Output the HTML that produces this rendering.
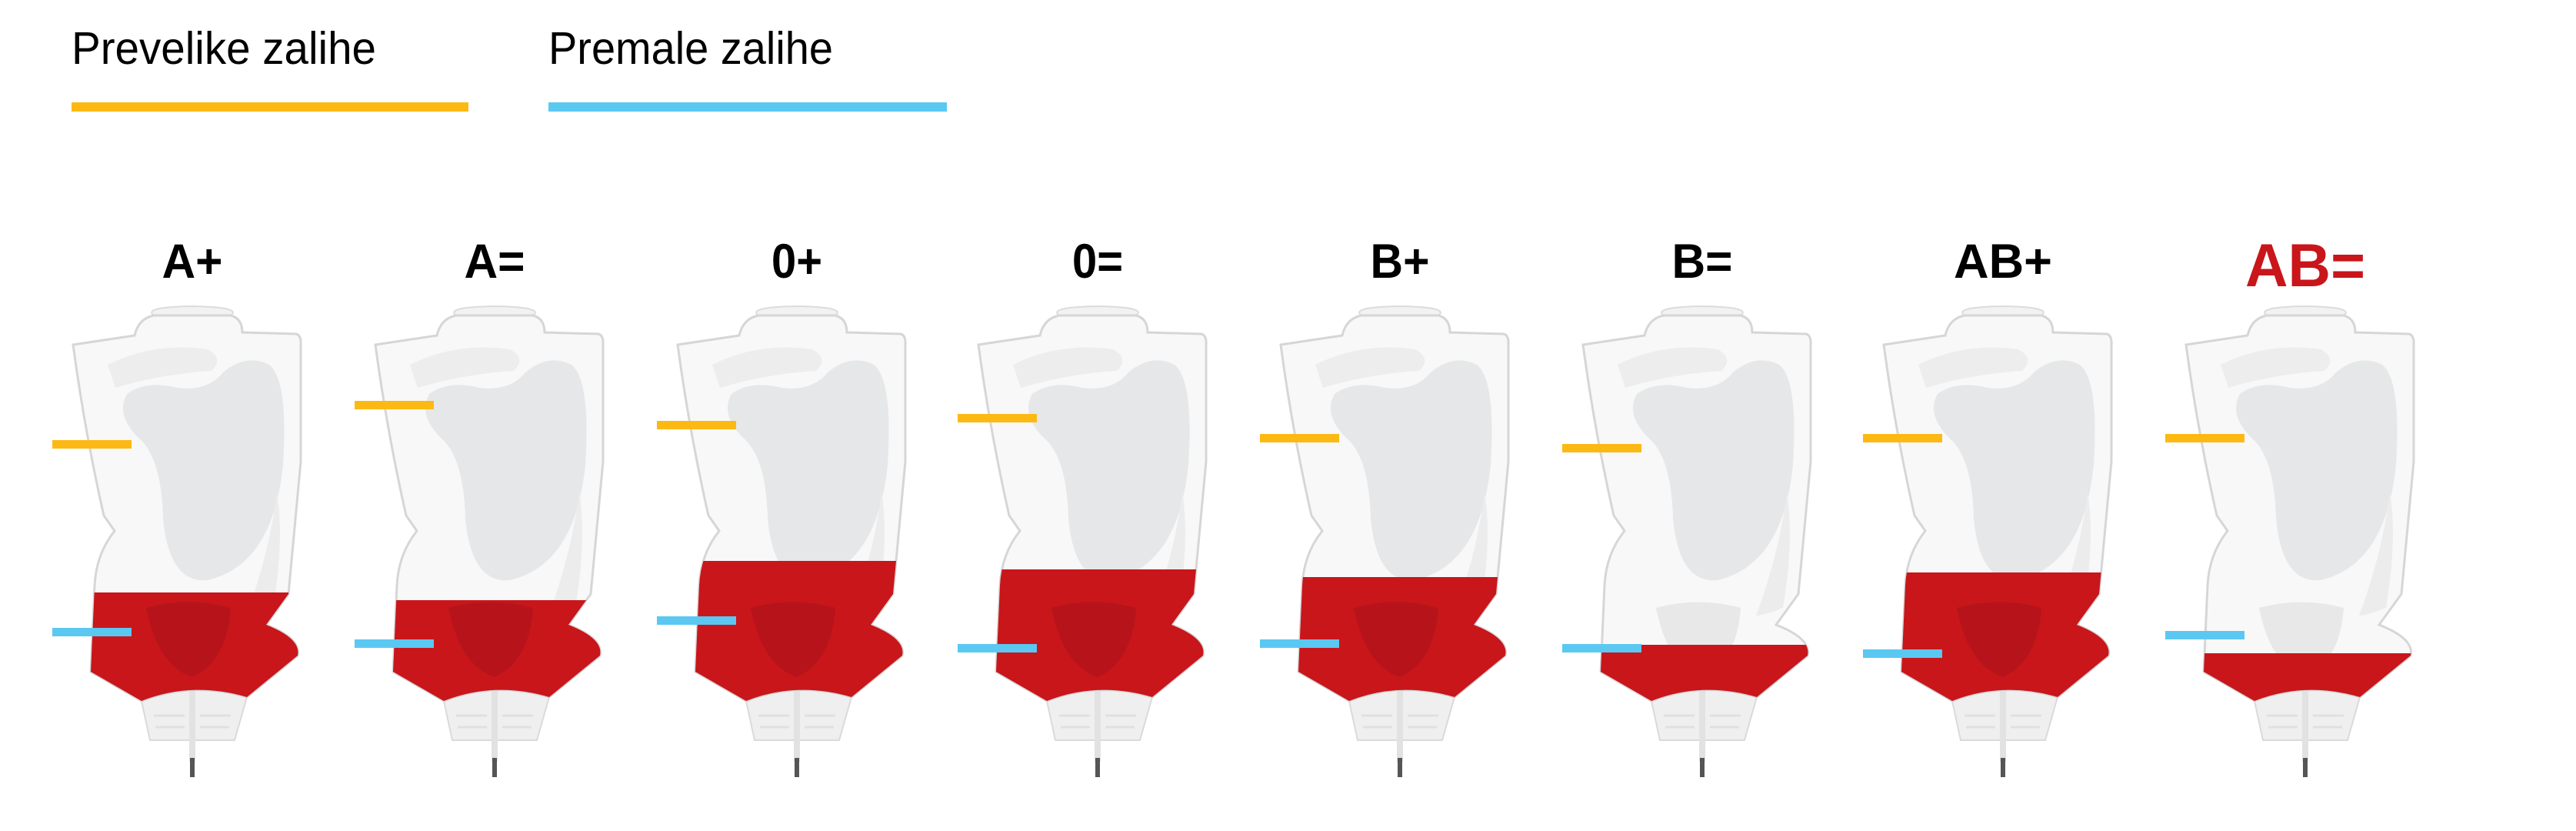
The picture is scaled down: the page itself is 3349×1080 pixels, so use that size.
<!DOCTYPE html>
<html><head><meta charset="utf-8"><style>
html,body{margin:0;padding:0;background:#fff;width:3349px;height:1080px;overflow:hidden}
svg{display:block}
text{font-family:"Liberation Sans",sans-serif}
</style></head><body>
<svg width="3349" height="1080" viewBox="0 0 3349 1080" xmlns="http://www.w3.org/2000/svg">
<defs>
<path id="body" d="M -155 448 L -75 436 Q -70 414 -50 410 L 50 410 Q 65 414 65 432 L 135 434 Q 142 436 141 449 L 141 600 L 125 772 L 96 812 Q 142 830 137 852 L 71 906 Q 0 885 -66 911 L -132 873 L -127 761 Q -125 720 -101 690 L -115 670 Q -140 560 -155 448 Z"/>
<clipPath id="cp"><use href="#body"/></clipPath>
<g id="bagbase">
  <path d="M -66 911 L -55 962 L 55 962 L 71 906 Q 0 885 -66 911 Z" fill="#efefef" stroke="#dadada" stroke-width="2"/>
  <line x1="-50" y1="930" x2="-10" y2="930" stroke="#e0e0e0" stroke-width="3"/>
  <line x1="10" y1="930" x2="50" y2="930" stroke="#e0e0e0" stroke-width="3"/>
  <line x1="-48" y1="945" x2="-10" y2="945" stroke="#e0e0e0" stroke-width="3"/>
  <line x1="10" y1="945" x2="48" y2="945" stroke="#e0e0e0" stroke-width="3"/>
  <rect x="-4" y="895" width="8" height="95" fill="#e2e2e2"/>
  <rect x="-3" y="985" width="6" height="25" fill="#555"/>
  <path d="M -50 410 Q -65 399 0 398 Q 65 399 50 410 Z" fill="#f2f2f2" stroke="#dcdcdc" stroke-width="2"/>
  <use href="#body" fill="#f8f8f8" stroke="#d6d6d6" stroke-width="3"/>
  <path d="M -110 474 Q -50 444 20 454 Q 42 466 25 482 Q -40 486 -100 504 Z" fill="#ededed"/>
  <path d="M -85 512 Q -60 494 -20 504 Q 20 509 40 484 Q 70 459 100 474 Q 125 494 118 604 Q 105 734 20 754 Q -30 759 -38 674 Q -40 594 -70 569 Q -100 539 -85 512 Z" fill="#e6e7e8"/>
  <path d="M -60 790 Q -5 775 50 790 Q 45 860 0 880 Q -45 865 -60 790 Z" fill="#e8e8e8"/>
  <path d="M 110 640 Q 120 700 105 790 Q 80 800 70 800 Q 100 720 110 640 Z" fill="#ececec"/>
</g>
<path id="dk" d="M -60 790 Q -5 775 50 790 Q 45 860 0 880 Q -45 865 -60 790 Z" fill="#a8141a" opacity=".55"/>
</defs>

<text x="93" y="83" font-size="59" textLength="396" lengthAdjust="spacingAndGlyphs" fill="#000">Prevelike zalihe</text>
<rect x="93" y="133" width="516" height="12" fill="#fdb913"/>
<text x="713" y="83" font-size="59" textLength="370" lengthAdjust="spacingAndGlyphs" fill="#000">Premale zalihe</text>
<rect x="713" y="133" width="518" height="12" fill="#5bc8f2"/>

<g font-weight="bold" font-size="63" text-anchor="middle" fill="#000">
<text x="250" y="361" textLength="79" lengthAdjust="spacingAndGlyphs">A+</text>
<text x="643" y="361" textLength="79" lengthAdjust="spacingAndGlyphs">A=</text>
<text x="1036" y="361" textLength="66" lengthAdjust="spacingAndGlyphs">0+</text>
<text x="1427" y="361" textLength="66" lengthAdjust="spacingAndGlyphs">0=</text>
<text x="1820" y="361" textLength="77" lengthAdjust="spacingAndGlyphs">B+</text>
<text x="2213" y="361" textLength="79" lengthAdjust="spacingAndGlyphs">B=</text>
<text x="2604" y="361" textLength="128" lengthAdjust="spacingAndGlyphs">AB+</text>
<text x="2997" y="372" font-size="79" fill="#c8161b" textLength="156" lengthAdjust="spacingAndGlyphs">AB=</text>
</g>

<g transform="translate(250,0)"><use href="#bagbase"/><g clip-path="url(#cp)"><rect x="-170" y="770" width="340" height="200" fill="#c8161b"/><use href="#dk"/></g><rect x="-182" y="572" width="103" height="11" fill="#fdb913"/><rect x="-182" y="816" width="103" height="11" fill="#5bc8f2"/></g>
<g transform="translate(643,0)"><use href="#bagbase"/><g clip-path="url(#cp)"><rect x="-170" y="780" width="340" height="200" fill="#c8161b"/><use href="#dk"/></g><rect x="-182" y="521" width="103" height="11" fill="#fdb913"/><rect x="-182" y="831" width="103" height="11" fill="#5bc8f2"/></g>
<g transform="translate(1036,0)"><use href="#bagbase"/><g clip-path="url(#cp)"><rect x="-170" y="729" width="340" height="250" fill="#c8161b"/><use href="#dk"/></g><rect x="-182" y="547" width="103" height="11" fill="#fdb913"/><rect x="-182" y="801" width="103" height="11" fill="#5bc8f2"/></g>
<g transform="translate(1427,0)"><use href="#bagbase"/><g clip-path="url(#cp)"><rect x="-170" y="740" width="340" height="250" fill="#c8161b"/><use href="#dk"/></g><rect x="-182" y="538" width="103" height="11" fill="#fdb913"/><rect x="-182" y="837" width="103" height="11" fill="#5bc8f2"/></g>
<g transform="translate(1820,0)"><use href="#bagbase"/><g clip-path="url(#cp)"><rect x="-170" y="750" width="340" height="250" fill="#c8161b"/><use href="#dk"/></g><rect x="-182" y="564" width="103" height="11" fill="#fdb913"/><rect x="-182" y="831" width="103" height="11" fill="#5bc8f2"/></g>
<g transform="translate(2213,0)"><use href="#bagbase"/><g clip-path="url(#cp)"><rect x="-170" y="838" width="340" height="200" fill="#c8161b"/></g><rect x="-182" y="577" width="103" height="11" fill="#fdb913"/><rect x="-182" y="837" width="103" height="11" fill="#5bc8f2"/></g>
<g transform="translate(2604,0)"><use href="#bagbase"/><g clip-path="url(#cp)"><rect x="-170" y="744" width="340" height="250" fill="#c8161b"/><use href="#dk"/></g><rect x="-182" y="564" width="103" height="11" fill="#fdb913"/><rect x="-182" y="844" width="103" height="11" fill="#5bc8f2"/></g>
<g transform="translate(2997,0)"><use href="#bagbase"/><g clip-path="url(#cp)"><rect x="-170" y="849" width="340" height="200" fill="#c8161b"/></g><rect x="-182" y="564" width="103" height="11" fill="#fdb913"/><rect x="-182" y="820" width="103" height="11" fill="#5bc8f2"/></g>
</svg>
</body></html>
